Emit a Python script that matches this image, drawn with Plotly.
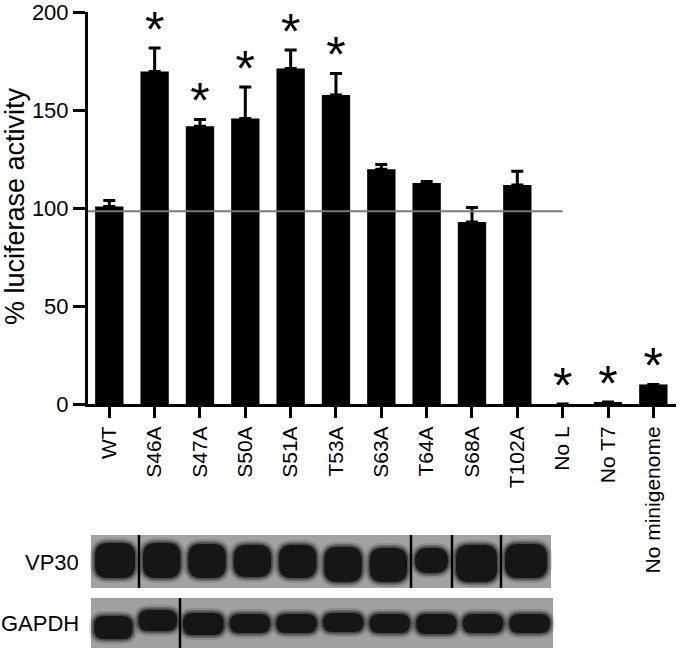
import plotly.graph_objects as go

# data
mutants = ['WT', 'S46A', 'S47A', 'S50A', 'S51A', 'T53A', 'S63A', 'T64A',
           'S68A', 'T102A', 'No L', 'No T7', 'No minigenome']
activity = [101, 170, 142, 146, 171.5, 158, 120, 113, 93, 112, 0, 1, 10]
sem = [3, 12, 3.5, 16, 9.5, 11, 2.5, 0.7, 7.5, 7, 0, 0, 0]
significant = [False, True, True, True, True, True, False, False,
               False, False, True, True, True]
reference_level = 98.5

FONT = 'Liberation Sans, Arial, sans-serif'

fig = go.Figure()

fig.add_trace(go.Bar(
    x=mutants, y=activity, width=0.625,
    marker=dict(color='black', line=dict(width=0)),
    error_y=dict(type='data', symmetric=False, array=sem,
                 arrayminus=[0] * len(sem), color='black',
                 thickness=3, width=6),
    showlegend=False,
))

# significance asterisks above the error bars
star_x = [m for m, s in zip(mutants, significant) if s]
star_y = [a + e + 7 for a, e, s in zip(activity, sem, significant) if s]
fig.add_trace(go.Scatter(
    x=star_x, y=star_y, mode='text', text=['*'] * len(star_x),
    textposition='middle center',
    textfont=dict(family=FONT, size=50, color='black'),
    showlegend=False, cliponaxis=False,
))

# plot area in pixels: x 88..676, y 12..404
def px(x):
    return (x - 88) / 588


def py(y):
    return (404 - y) / 392


shapes = [dict(type='line', xref='x', yref='y', x0=-0.47, x1=10,
               y0=reference_level, y1=reference_level,
               line=dict(color='#7a7a7a', width=2), layer='above')]


def rect(x0, y0, x1, y1, color):
    return dict(type='rect', xref='paper', yref='paper',
                x0=px(x0), x1=px(x1), y0=py(y1), y1=py(y0),
                fillcolor=color, line=dict(width=0), layer='above')


def rrect(x0, y0, x1, y1, r, color, opacity=1):
    a, b, c, d = px(x0), px(x1), py(y0), py(y1)
    rx, ry = r / 588, r / 392
    path = (f'M{a + rx},{c} L{b - rx},{c} Q{b},{c} {b},{c - ry} '
            f'L{b},{d + ry} Q{b},{d} {b - rx},{d} L{a + rx},{d} '
            f'Q{a},{d} {a},{d + ry} L{a},{c - ry} Q{a},{c} {a + rx},{c} Z')
    return dict(type='path', xref='paper', yref='paper', path=path,
                fillcolor=color, opacity=opacity, line=dict(width=0),
                layer='above')


def blob(x0, y0, x1, y1, r):
    # soft-edged band: a few translucent halos under a dark core
    out = []
    for grow, op in [(5, 0.15), (3, 0.3), (1.5, 0.45)]:
        out.append(rrect(x0 - grow, y0 - grow, x1 + grow, y1 + grow,
                         r + grow, '#1e1e1e', op))
    out.append(rrect(x0, y0, x1, y1, r, '#161616'))
    return out


def vline(x, y0, y1):
    return dict(type='line', xref='paper', yref='paper',
                x0=px(x), x1=px(x), y0=py(y0), y1=py(y1),
                line=dict(color='black', width=2.5), layer='above')


# VP30 blot
vp_edges = [91, 139, 184.3, 229.7, 275, 320.3, 365.7, 411, 452, 501, 551]
vp_top = [543, 543, 544, 545, 545, 547, 548, 548, 545, 544]
vp_bot = [578, 578, 578, 577, 578, 582, 582, 573, 582, 578]
shapes.append(rect(91, 535, 551, 588, '#a2a2a2'))
for i in range(10):
    l, r = vp_edges[i] + 4, vp_edges[i + 1] - 4
    shapes += blob(l, vp_top[i], r, vp_bot[i], 13)
for x in [139, 411, 452, 501]:
    shapes.append(vline(x, 535, 588))

# GAPDH blot
gp_edges = [91, 135.5, 180, 226.6, 273.2, 319.9, 366.5, 413.1, 459.7, 506.3, 553]
gp_top = [616, 610, 613, 614, 614, 613, 614, 614, 614, 614]
gp_bot = [639, 631, 635, 633, 633, 632, 633, 634, 633, 633]
shapes.append(rect(91, 598, 553, 648, '#a0a0a0'))
for i in range(10):
    l, r = gp_edges[i] + 3, gp_edges[i + 1] - 3
    shapes += blob(l, gp_top[i], r, gp_bot[i], 10)
shapes.append(vline(180, 598, 648))

annotations = [
    dict(text='% luciferase activity', xref='paper', yref='paper',
         x=px(15), y=py(206), textangle=-90, xanchor='center',
         yanchor='middle', showarrow=False,
         font=dict(family=FONT, size=27, color='black')),
    dict(text='VP30', xref='paper', yref='paper', x=px(81), y=py(562),
         xanchor='right', yanchor='middle', showarrow=False,
         font=dict(family=FONT, size=22, color='black')),
    dict(text='GAPDH', xref='paper', yref='paper', x=px(81), y=py(623),
         xanchor='right', yanchor='middle', showarrow=False,
         font=dict(family=FONT, size=22, color='black')),
]

fig.update_layout(
    width=680, height=652,
    margin=dict(l=88, r=4, t=12, b=248),
    plot_bgcolor='white', paper_bgcolor='white',
    font=dict(family=FONT, size=22, color='black'),
    shapes=shapes, annotations=annotations,
    showlegend=False,
)
fig.update_xaxes(
    range=[-0.47, 12.5], showline=True, linecolor='black', linewidth=3,
    ticks='outside', ticklen=11, tickwidth=3, tickcolor='black',
    tickangle=-90, tickfont=dict(size=21), showgrid=False, zeroline=False,
    automargin=False,
)
fig.update_yaxes(
    range=[0, 200.4], tickvals=[0, 50, 100, 150, 200],
    showline=True, linecolor='black', linewidth=3,
    ticks='outside', ticklen=12, tickwidth=3, tickcolor='black',
    tickfont=dict(size=22), showgrid=False, zeroline=False,
    automargin=False,
)

# drop the browser's default 8px body margin so the figure sits at 0,0
fig.write_html('out.html', config={'displayModeBar': False},
               post_script="document.body.style.margin='0';")
